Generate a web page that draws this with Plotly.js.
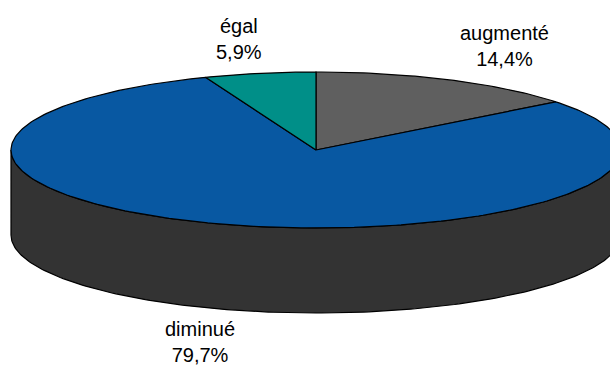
<!DOCTYPE html>
<html>
<head>
<meta charset="utf-8">
<script src="https://cdn.plot.ly/plotly-3.0.1.min.js"></script>
<style>
  html, body { margin: 0; padding: 0; background: #ffffff; }
  #chart { width: 610px; height: 365px; }
</style>
</head>
<body>
<div id="chart"></div>
<script>
// Answers, in the order the slices are laid out clockwise from 12 o'clock
const categories = ['augmenté', 'diminué', 'égal'];
const shares = [14.4, 79.7, 5.9];

// Styling
const sliceColors = ['#5f5f5f', '#0858a2', '#008f88'];
const sideColor = '#333333';
const edgeColor = '#000000';

// Disc geometry (axis units equal pixels)
const disc = { cx: 316, cy: 150, rx: 305, ry: 78, depth: 85 };

// Label anchor points for each category
const labelSpots = {
  'augmenté': { x: 504, y: 46 },
  'diminué':  { x: 200, y: 342 },
  'égal':     { x: 239, y: 39 }
};

function pointAt(deg, drop) {
  const t = deg * Math.PI / 180;
  return [disc.cx + disc.rx * Math.sin(t), disc.cy - disc.ry * Math.cos(t) + (drop || 0)];
}

function arc(a, b, drop) {
  const pts = [];
  const n = Math.max(2, Math.ceil(Math.abs(b - a) / 1));
  for (let i = 0; i <= n; i++) pts.push(pointAt(a + (b - a) * i / n, drop));
  return pts;
}

const total = shares.reduce((s, v) => s + v, 0);
const bounds = [];
let acc = 0;
shares.forEach(v => {
  const start = acc / total * 360;
  acc += v;
  bounds.push([start, acc / total * 360]);
});

const traces = [];

// Front wall: only the part facing the viewer (90° to 270°)
bounds.forEach(([a, b]) => {
  const s = Math.max(a, 90), e = Math.min(b, 270);
  if (e <= s) return;
  const top = arc(s, e, 0);
  const bottom = arc(e, s, disc.depth);
  const pts = top.concat(bottom);
  pts.push(pts[0]);
  traces.push({
    type: 'scatter', mode: 'lines', fill: 'toself',
    x: pts.map(p => p[0]), y: pts.map(p => p[1]),
    fillcolor: sideColor,
    line: { color: edgeColor, width: 1.2 },
    hoverinfo: 'skip', showlegend: false
  });
});

// Top face slices
bounds.forEach(([a, b], i) => {
  const pts = [[disc.cx, disc.cy]].concat(arc(a, b, 0));
  pts.push([disc.cx, disc.cy]);
  traces.push({
    type: 'scatter', mode: 'lines', fill: 'toself',
    x: pts.map(p => p[0]), y: pts.map(p => p[1]),
    fillcolor: sliceColors[i],
    line: { color: edgeColor, width: 1.2 },
    name: categories[i],
    hoverinfo: 'skip', showlegend: false
  });
});

const annotations = categories.map((c, i) => ({
  x: labelSpots[c].x, y: labelSpots[c].y,
  xref: 'x', yref: 'y',
  text: c + '<br>' + shares[i].toFixed(1).replace('.', ',') + '%',
  showarrow: false,
  xanchor: 'center', yanchor: 'middle',
  align: 'center',
  font: { family: 'Liberation Sans, Arial, sans-serif', size: 20, color: '#000000' }
}));

const layout = {
  width: 610, height: 365,
  margin: { l: 0, r: 0, t: 0, b: 0 },
  paper_bgcolor: '#ffffff', plot_bgcolor: '#ffffff',
  xaxis: { range: [0, 610], visible: false, fixedrange: true },
  yaxis: { range: [365, 0], visible: false, fixedrange: true },
  showlegend: false,
  annotations: annotations
};

Plotly.newPlot('chart', traces, layout, { displayModeBar: false, staticPlot: true });
</script>
</body>
</html>
